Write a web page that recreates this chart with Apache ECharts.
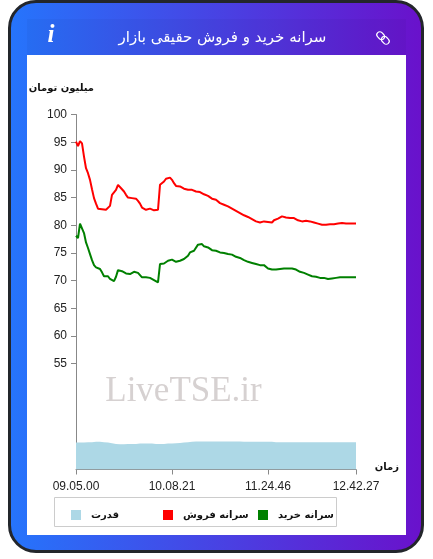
<!DOCTYPE html>
<html lang="fa">
<head>
<meta charset="utf-8">
<style>
html,body{margin:0;padding:0;width:433px;height:559px;background:#fff;overflow:hidden}
#card{position:absolute;left:8px;top:0;width:410px;height:547px;border:3px solid #23262b;border-radius:28px;background:linear-gradient(to right,#2575fc,#6a11cb);background-origin:border-box}
#band{position:absolute;left:27px;top:19px;width:379px;height:36px;background:rgba(0,0,40,.035)}
#panel{position:absolute;left:27px;top:55px;width:379px;height:480px;background:#fff}
#chart{position:absolute;left:0;top:0;width:433px;height:559px}
</style>
<script src="https://cdn.jsdelivr.net/npm/echarts@6/dist/echarts.min.js"></script>
</head>
<body>
<div id="card"></div><div id="band"></div><div id="panel"></div>
<div id="chart"></div>
<script>
var chartTitle = 'سرانه خرید و فروش حقیقی بازار';
var yUnit = 'میلیون تومان';
var xUnit = 'زمان';
var watermark = 'LiveTSE.ir';
var sellName = 'سرانه فروش';
var buyName = 'سرانه خرید';
var powerName = 'قدرت';
var timeLabels = {0:'09.05.00',48:'10.08.21',96:'11.24.46',140:'12.42.27'};
var yTicks = [55,60,65,70,75,80,85,90,95,100];

var sell = [95.1,94.3,95.2,94.8,92.4,90.3,89.4,88.2,86.5,84.9,83.9,83.0,83.3,82.9,82.9,82.8,82.9,83.5,85.5,85.8,
86.4,87.3,87.4,86.5,86.1,85.5,85.0,84.8,84.9,85.0,84.8,84.4,83.9,83.2,82.9,82.8,82.9,83.0,83.0,82.7,
82.4,82.8,87.3,87.5,87.9,88.4,88.7,88.6,88.2,87.6,87.1,86.9,87.0,86.9,86.6,86.3,86.4,86.6,86.4,86.2,
86.1,86.2,86.0,85.9,85.6,85.4,85.3,85.0,84.8,84.7,84.6,84.3,84.0,83.9,83.7,83.6,83.4,83.2,83.0,82.8,
82.6,82.4,82.2,82.0,81.8,81.6,81.5,81.3,81.1,80.9,80.7,80.6,80.5,80.8,80.7,80.6,80.6,80.6,80.5,80.9,
81.1,81.2,81.2,81.6,81.5,81.4,81.3,81.3,81.4,81.3,81.2,80.9,80.7,80.7,80.8,80.8,80.7,80.7,80.6,80.5,
80.4,80.3,80.2,80.1,80.2,80.1,80.2,80.2,80.3,80.2,80.3,80.3,80.2,80.4,80.4,80.3,80.3,80.3,80.3,80.3,80.3];

var buy = [78.1,77.7,80.3,80.1,78.6,76.9,75.9,74.8,73.7,72.8,72.4,72.2,72.1,71.5,70.8,70.5,70.8,70.3,70.0,69.9,
70.7,71.9,72.1,71.7,71.5,71.3,71.0,71.2,71.5,71.6,71.6,71.4,71.2,70.6,70.4,70.6,70.5,70.5,70.4,70.1,
69.8,69.7,73.0,72.8,73.1,73.0,73.6,73.8,73.8,73.6,73.4,73.3,73.6,73.8,73.9,74.0,74.5,75.1,75.2,75.4,
75.6,76.5,76.6,76.6,76.2,76.1,76.0,75.7,75.5,75.4,75.4,75.4,75.1,75.0,75.0,74.9,74.8,74.8,74.7,74.5,
74.3,74.2,74.1,73.9,73.7,73.6,73.4,73.3,73.2,73.1,73.0,72.8,72.8,73.0,72.8,72.5,72.2,72.1,72.0,72.0,
72.0,72.1,72.1,72.3,72.2,72.1,72.2,72.2,72.2,72.1,72.0,71.8,71.6,71.5,71.4,71.3,71.1,70.9,70.8,70.7,
70.7,70.6,70.5,70.5,70.5,70.4,70.3,70.3,70.4,70.4,70.5,70.6,70.6,70.6,70.6,70.6,70.6,70.6,70.6,70.6,70.6];

var power = [7.6,7.6,7.6,7.6,7.6,7.7,7.7,7.7,7.7,7.8,7.8,7.8,7.8,7.8,7.7,7.7,7.6,7.5,7.4,7.3,
7.2,7.1,7.1,7.1,7.1,7.1,7.2,7.2,7.2,7.2,7.2,7.3,7.3,7.3,7.3,7.3,7.3,7.3,7.3,7.2,
7.2,7.2,7.2,7.2,7.2,7.2,7.3,7.3,7.3,7.4,7.4,7.4,7.5,7.6,7.6,7.7,7.7,7.8,7.8,7.9,
7.9,7.9,7.9,7.9,7.9,7.9,7.9,7.9,7.9,7.9,7.9,7.9,7.9,7.9,7.9,7.9,7.9,7.9,7.9,7.9,
7.9,7.9,7.9,7.9,7.8,7.8,7.8,7.8,7.8,7.8,7.8,7.8,7.8,7.8,7.8,7.8,7.8,7.8,7.8,7.8,
7.7,7.7,7.7,7.7,7.7,7.7,7.7,7.7,7.7,7.7,7.7,7.7,7.7,7.7,7.7,7.7,7.7,7.7,7.7,7.7,
7.7,7.7,7.7,7.7,7.7,7.7,7.7,7.7,7.7,7.7,7.7,7.7,7.7,7.7,7.7,7.7,7.7,7.7,7.7,7.7,7.7];

var categories = sell.map(function(_, i){ return timeLabels[i] || ''; });
var isLabelled = function(i){ return timeLabels[i] !== undefined; };
var faFont = '"DejaVu Sans"';
var legendText = {fontFamily: faFont, fontSize: 10, fontWeight: 'bold', color: '#111', padding: [0,0,0,5]};

var chart = echarts.init(document.getElementById('chart'), null, {renderer: 'canvas'});
chart.setOption({
  animation: false,
  backgroundColor: 'transparent',
  textStyle: {fontFamily: '"Liberation Sans"'},
  grid: {left: 76, right: 77, top: 114.5, bottom: 89.5, containLabel: false},
  xAxis: {
    type: 'category', data: categories, boundaryGap: false,
    axisLine: {lineStyle: {color: '#888', width: 1}},
    axisTick: {length: 5, interval: function(i){ return isLabelled(i); }, lineStyle: {color: '#888'}},
    axisLabel: {interval: function(i){ return isLabelled(i); }, margin: 11, fontSize: 12, color: '#222', fontFamily: '"Liberation Sans"', hideOverlap: false},
    splitLine: {show: false}
  },
  yAxis: [{
    type: 'value', min: 35.9, max: 100,
    axisLine: {show: true, lineStyle: {color: '#888', width: 1}},
    axisTick: {show: true, length: 5, customValues: yTicks, lineStyle: {color: '#888'}},
    axisLabel: {customValues: yTicks, margin: 9, fontSize: 12, color: '#222', fontFamily: '"Liberation Sans"'},
    splitLine: {show: false}
  },{
    type: 'value', min: 0, max: 100, show: false, splitLine: {show: false}
  }],
  legend: [
    {left: 253, top: 505, itemWidth: 10, itemHeight: 10, icon: 'rect', data: [buyName], textStyle: legendText, selectedMode: false},
    {left: 158, top: 505, itemWidth: 10, itemHeight: 10, icon: 'rect', data: [sellName], textStyle: legendText, selectedMode: false},
    {left: 66, top: 505, itemWidth: 10, itemHeight: 10, icon: 'rect', data: [powerName], textStyle: legendText, selectedMode: false}
  ],
  title: {
    text: chartTitle, left: 217.5, top: 26, textAlign: 'center',
    textStyle: {color: '#fff', fontSize: 15, fontWeight: 'normal', fontFamily: faFont}
  },
  graphic: [
    {type: 'text', z: 0, style: {x: 183.5, y: 392, text: watermark, fill: '#d6d1d1', font: '35px "Liberation Serif"', align: 'center', verticalAlign: 'middle'}},
    {type: 'text', style: {x: 51, y: 36, text: 'i', fill: '#fff', font: 'italic bold 25px "Liberation Serif"', align: 'center', verticalAlign: 'middle'}},
    {type: 'text', style: {x: 94, y: 88, text: yUnit, fill: '#111', font: 'bold 10px "DejaVu Sans"', align: 'right', verticalAlign: 'middle'}},
    {type: 'text', style: {x: 399, y: 467, text: xUnit, fill: '#111', font: 'bold 10px "DejaVu Sans"', align: 'right', verticalAlign: 'middle'}},
    {type: 'rect', shape: {x: 54.5, y: 497.5, width: 282, height: 29}, style: {fill: 'none', stroke: '#ccc', lineWidth: 1}},
    {type: 'group', x: 383, y: 38, rotation: Math.PI / 4, children: [
      {type: 'rect', shape: {x: -3, y: -7.5, width: 6, height: 8.5, r: 3}, style: {fill: 'none', stroke: '#fff', lineWidth: 1.2}},
      {type: 'rect', shape: {x: -3, y: -1, width: 6, height: 8.5, r: 3}, style: {fill: 'none', stroke: '#fff', lineWidth: 1.2}}
    ]}
  ],
  series: [
    {name: powerName, type: 'line', yAxisIndex: 1, data: power, showSymbol: false, symbol: 'rect', itemStyle: {color: '#add8e6'}, lineStyle: {width: 0, color: '#add8e6'}, areaStyle: {color: '#add8e6', opacity: 1}, z: 1},
    {name: sellName, type: 'line', data: sell, showSymbol: false, symbol: 'rect', itemStyle: {color: '#ff0000'}, lineStyle: {width: 2, color: '#ff0000'}, z: 3},
    {name: buyName, type: 'line', data: buy, showSymbol: false, symbol: 'rect', itemStyle: {color: '#008000'}, lineStyle: {width: 2, color: '#008000'}, z: 3}
  ]
});
</script>
</body>
</html>
